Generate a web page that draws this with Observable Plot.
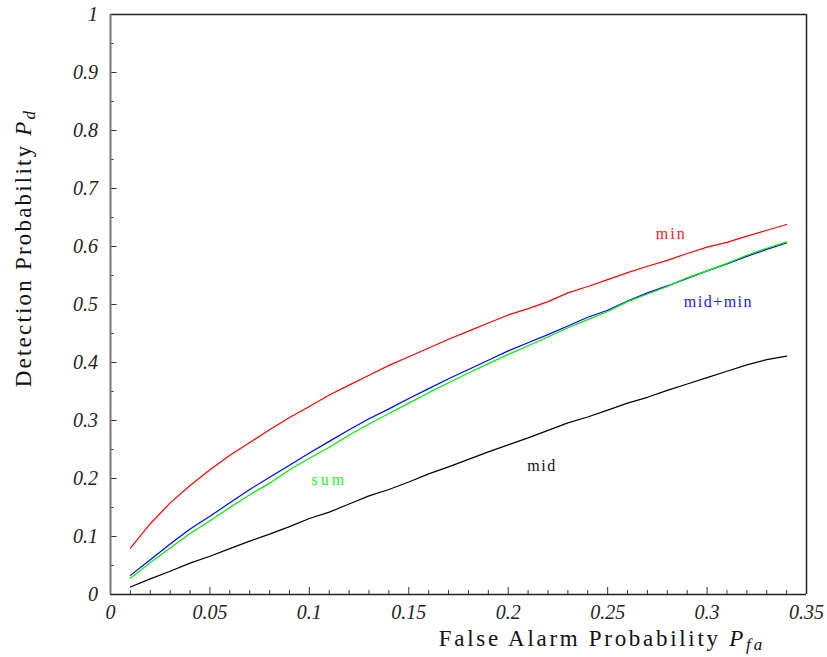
<!DOCTYPE html>
<html>
<head>
<meta charset="utf-8">
<script src="https://cdn.jsdelivr.net/npm/d3@7"></script>
<script src="https://cdn.jsdelivr.net/npm/@observablehq/plot@0.6"></script>
<style>
  body { margin: 0; background: #fff; }
  #chart { width: 827px; height: 657px; }
</style>
</head>
<body>
<div id="chart"></div>
<script>
const pfa = [0.01,0.02,0.03,0.04,0.05,0.06,0.07,0.08,0.09,0.10,0.11,0.12,0.13,0.14,0.15,0.16,0.17,0.18,0.19,0.20,0.21,0.22,0.23,0.24,0.25,0.26,0.27,0.28,0.29,0.30,0.31,0.32,0.33,0.34];
const minVals = [0.080,0.122,0.158,0.188,0.215,0.240,0.262,0.284,0.305,0.324,0.344,0.361,0.378,0.395,0.410,0.425,0.440,0.454,0.468,0.482,0.493,0.505,0.520,0.531,0.543,0.555,0.566,0.576,0.588,0.599,0.607,0.618,0.628,0.638];
const midMinVals = [0.033,0.060,0.087,0.113,0.135,0.158,0.181,0.202,0.223,0.244,0.264,0.284,0.303,0.320,0.338,0.355,0.372,0.388,0.404,0.420,0.434,0.448,0.463,0.478,0.490,0.506,0.520,0.532,0.545,0.558,0.570,0.583,0.595,0.606];
const sumVals = [0.028,0.055,0.080,0.105,0.127,0.150,0.172,0.192,0.215,0.235,0.254,0.275,0.294,0.312,0.330,0.348,0.365,0.382,0.398,0.414,0.429,0.444,0.460,0.474,0.488,0.505,0.518,0.531,0.546,0.558,0.571,0.585,0.597,0.608];
const midVals = [0.013,0.027,0.040,0.054,0.066,0.079,0.092,0.104,0.117,0.131,0.142,0.156,0.170,0.181,0.194,0.208,0.220,0.233,0.246,0.258,0.270,0.283,0.296,0.306,0.318,0.330,0.340,0.352,0.363,0.374,0.385,0.396,0.405,0.411];

const seriesNames = ["min", "mid+min", "sum", "mid"];
const seriesColors = ["#ff0000", "#0000ff", "#00ee00", "#000000"];
const labelColors = ["#ff2020", "#2020ff", "#33ee33", "#111111"];
const labelX = [0.282, 0.3057, 0.110, 0.217];
const labelY = [0.621, 0.505, 0.198, 0.221];
const labelSpacing = ["2px", "1.5px", "3px", "1.5px"];

const xMajor = [0, 0.05, 0.1, 0.15, 0.2, 0.25, 0.3, 0.35];
const xMinor = [0.01,0.02,0.03,0.04,0.06,0.07,0.08,0.09,0.11,0.12,0.13,0.14,0.16,0.17,0.18,0.19,0.21,0.22,0.23,0.24,0.26,0.27,0.28,0.29,0.31,0.32,0.33,0.34];
const yMajor = [0, 0.1, 0.2, 0.3, 0.4, 0.5, 0.6, 0.7, 0.8, 0.9, 1];
const yMinor = [0.05, 0.15, 0.25, 0.35, 0.45, 0.55, 0.65, 0.75, 0.85, 0.95];
const xTickLabels = ["0", "0.05", "0.1", "0.15", "0.2", "0.25", "0.3", "0.35"];
const yTickLabels = ["0", "0.1", "0.2", "0.3", "0.4", "0.5", "0.6", "0.7", "0.8", "0.9", "1"];

const allSeries = [minVals, midMinVals, sumVals, midVals];
const rows = [];
allSeries.forEach((vals, s) => vals.forEach((v, i) => rows.push({x: pfa[i], y: v, series: seriesNames[s]})));
const labels = seriesNames.map((n, i) => ({name: n, x: labelX[i], y: labelY[i], color: labelColors[i]}));

const serif = "'Liberation Serif', 'Times New Roman', serif";

const chart = Plot.plot({
  width: 827,
  height: 657,
  marginLeft: 110,
  marginRight: 21,
  marginTop: 14,
  marginBottom: 63,
  style: {fontFamily: serif, background: "#fff", color: "#000"},
  x: {domain: [0, 0.35], label: null},
  y: {domain: [0, 1], label: null},
  color: {domain: seriesNames, range: seriesColors},
  marks: [
    Plot.line(rows, {x: "x", y: "y", stroke: "series", z: "series", strokeWidth: 1.2}),
    Plot.text(labels, {x: "x", y: "y", text: "name", fill: "color", fontSize: 16, textAnchor: "middle", className: "serieslabel"}),
    Plot.axisY({ticks: yMinor, tickSize: -3.5, tickFormat: () => "", stroke: "#333", label: null}),
    Plot.axisY({ticks: yMajor, tickSize: -6.5, tickPadding: 19, tickFormat: (d, i) => yTickLabels[i], fontSize: 20, fontStyle: "italic", stroke: "#333", fill: "#222", label: null}),
    Plot.axisX({ticks: xMinor, tickSize: -4, tickFormat: () => "", stroke: "#333", label: null}),
    Plot.axisX({ticks: xMajor, tickSize: -7, tickPadding: 17, tickFormat: (d, i) => xTickLabels[i], fontSize: 20, fontStyle: "italic", stroke: "#333", fill: "#222", label: null}),
    Plot.ruleX([0.35], {stroke: "#222", strokeWidth: 1.5}),
    Plot.ruleY([1], {stroke: "#222", strokeWidth: 1.5}),
    Plot.ruleY([0], {stroke: "#222", strokeWidth: 1.5}),
    Plot.ruleX([0], {stroke: "#777", strokeWidth: 2})
  ]
});
document.getElementById("chart").appendChild(chart);

const svg = d3.select(chart);
svg.selectAll("text").style("font-family", serif);
svg.selectAll(".serieslabel text").each(function(d, i) {
  d3.select(this).style("letter-spacing", labelSpacing[i]);
});

const xl = svg.append("text")
  .attr("x", 602).attr("y", 646)
  .attr("text-anchor", "middle")
  .style("font-family", serif).style("font-size", "23px").style("letter-spacing", "2.7px")
  .attr("fill", "#111");
xl.append("tspan").text("False Alarm Probability ");
xl.append("tspan").style("font-style", "italic").text("P");
xl.append("tspan").style("font-style", "italic").style("font-size", "17px").attr("dy", 4).style("letter-spacing", "3px").text("fa");

const yl = svg.append("text")
  .attr("transform", "translate(31,248) rotate(-90)")
  .attr("text-anchor", "middle")
  .style("font-family", serif).style("font-size", "23px").style("letter-spacing", "2.2px")
  .attr("fill", "#111");
yl.append("tspan").text("Detection Probability ");
yl.append("tspan").style("font-style", "italic").text("P");
yl.append("tspan").style("font-style", "italic").style("font-size", "17px").attr("dy", 4).text("d");
</script>
</body>
</html>
